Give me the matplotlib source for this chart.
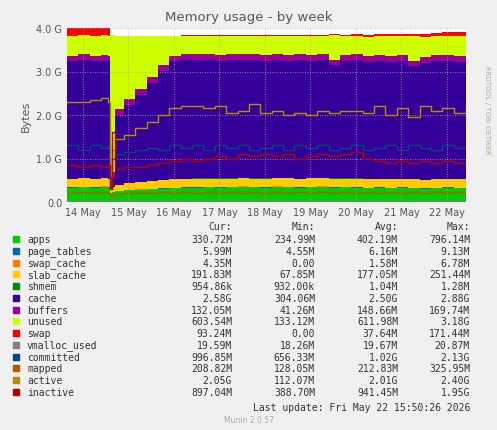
import matplotlib
matplotlib.use("Agg")
import matplotlib.pyplot as plt
import numpy as np

# time in days from 14 May 00:00
t = [-0.35, -0.1, 0.15, 0.4, 0.55, 0.6, 0.65, 0.7, 0.9, 1.15, 1.4, 1.65, 1.9, 2.15, 2.4, 2.65,
     2.9, 3.15, 3.4, 3.65, 3.9, 4.15, 4.4, 4.65, 4.9, 5.15, 5.4, 5.65, 5.9, 6.15, 6.4, 6.65,
     6.9, 7.15, 7.4, 7.65, 7.9, 8.15, 8.42]
# stacked series (GB)
apps = [0.33, 0.34, 0.33, 0.35, 0.33, 0.2, 0.22, 0.25, 0.27, 0.28, 0.3, 0.31, 0.32, 0.33, 0.33, 0.34,
        0.33, 0.34, 0.35, 0.34, 0.33, 0.35, 0.34, 0.33, 0.34, 0.35, 0.33, 0.34, 0.33, 0.32, 0.33, 0.32,
        0.33, 0.32, 0.31, 0.32, 0.33, 0.32, 0.33]
page_tables = [0.006] * 39
swap_cache = [0.004] * 39
slab_cache = [0.19, 0.2, 0.19, 0.2, 0.19, 0.1, 0.12, 0.14, 0.16, 0.17, 0.18, 0.19, 0.2, 0.19, 0.2, 0.19,
              0.2, 0.19, 0.2, 0.19, 0.2, 0.19, 0.2, 0.19, 0.2, 0.19, 0.2, 0.19, 0.2, 0.19, 0.18, 0.19,
              0.18, 0.19, 0.18, 0.19, 0.18, 0.19, 0.18]
shmem = [0.001] * 39
cache = [2.7, 2.72, 2.7, 2.68, 2.7, 0.15, 0.2, 1.6, 1.8, 2.0, 2.25, 2.5, 2.7, 2.75, 2.72, 2.74,
         2.7, 2.72, 2.7, 2.73, 2.7, 2.72, 2.7, 2.74, 2.7, 2.72, 2.6, 2.7, 2.72, 2.7, 2.73, 2.7,
         2.72, 2.6, 2.7, 2.72, 2.73, 2.7, 2.72]
buffers = [0.13] * 39
unused = [0.46, 0.43, 0.46, 0.46, 0.46, 3.24, 3.16, 1.69, 1.45, 1.23, 0.95, 0.68, 0.45, 0.40, 0.42, 0.40,
          0.44, 0.42, 0.42, 0.41, 0.44, 0.41, 0.43, 0.41, 0.43, 0.41, 0.56, 0.44, 0.42, 0.45, 0.43, 0.46,
          0.44, 0.56, 0.47, 0.44, 0.43, 0.46, 0.44]
swap = [0.17, 0.17, 0.17, 0.17, 0.17, 0.0, 0.0, 0.0, 0.0, 0.0, 0.0, 0.0, 0.0, 0.02, 0.02, 0.02,
        0.02, 0.02, 0.02, 0.02, 0.02, 0.02, 0.02, 0.02, 0.02, 0.02, 0.03, 0.03, 0.04, 0.04, 0.05, 0.05,
        0.06, 0.06, 0.07, 0.08, 0.09, 0.09, 0.09]
# line series (GB)
vmalloc_used = [0.02] * 39
committed = [1.3, 1.2, 1.3, 1.25, 1.3, 0.5, 1.0, 1.1, 1.15, 1.2, 1.25, 1.2, 1.3, 1.25, 1.3, 1.2,
             1.3, 1.25, 1.3, 1.2, 1.25, 1.3, 1.2, 1.3, 1.25, 1.3, 1.2, 1.25, 1.3, 1.2, 1.25, 1.3,
             1.2, 1.3, 1.25, 1.2, 1.3, 1.25, 1.3]
mapped = [0.21, 0.22, 0.21, 0.22, 0.21, 0.13, 0.15, 0.18, 0.2, 0.21, 0.21, 0.22, 0.21, 0.22, 0.21, 0.22,
          0.21, 0.22, 0.21, 0.22, 0.21, 0.22, 0.21, 0.22, 0.21, 0.22, 0.21, 0.22, 0.21, 0.22, 0.21, 0.22,
          0.21, 0.22, 0.21, 0.22, 0.21, 0.22, 0.21]
active = [2.3, 2.3, 2.35, 2.4, 2.3, 0.3, 1.2, 1.45, 1.55, 1.7, 1.85, 2.0, 2.15, 2.2, 2.2, 2.15,
          2.2, 2.05, 2.1, 2.25, 2.05, 2.1, 2.0, 2.05, 2.0, 2.1, 2.05, 2.1, 2.1, 2.05, 2.2, 2.0,
          2.15, 1.95, 2.2, 2.1, 2.15, 2.05, 2.2]
inactive = [0.85, 0.8, 0.85, 0.8, 0.85, 0.3, 1.6, 0.75, 0.8, 0.8, 0.85, 0.9, 0.95, 1.0, 0.95, 1.0,
            1.05, 1.0, 1.1, 1.05, 1.1, 1.05, 1.1, 1.0, 1.05, 1.1, 1.05, 1.1, 1.15, 1.0, 0.95, 0.9,
            0.95, 0.9, 0.95, 0.9, 0.95, 0.9, 0.92]

day_labels = ["14 May", "15 May", "16 May", "17 May", "18 May", "19 May", "20 May", "21 May", "22 May"]

stack_names = ["apps", "page_tables", "swap_cache", "slab_cache", "shmem", "cache", "buffers", "unused", "swap"]
stack_vals = [apps, page_tables, swap_cache, slab_cache, shmem, cache, buffers, unused, swap]
stack_colors = ["#00CC00", "#0066B3", "#FF8000", "#FFCC00", "#008F00", "#330099", "#990099", "#CCFF00", "#FF0000"]
line_names = ["vmalloc_used", "committed", "mapped", "active", "inactive"]
line_vals = [vmalloc_used, committed, mapped, active, inactive]
line_colors = ["#808080", "#00487D", "#B35A00", "#B38F00", "#B30000"]

legend_rows = [
    ("330.72M", "234.99M", "402.19M", "796.14M"),
    ("5.99M", "4.55M", "6.16M", "9.13M"),
    ("4.35M", "0.00", "1.58M", "6.78M"),
    ("191.83M", "67.85M", "177.05M", "251.44M"),
    ("954.86k", "932.00k", "1.04M", "1.28M"),
    ("2.58G", "304.06M", "2.50G", "2.88G"),
    ("132.05M", "41.26M", "148.66M", "169.74M"),
    ("603.54M", "133.12M", "611.98M", "3.18G"),
    ("93.24M", "0.00", "37.64M", "171.44M"),
    ("19.59M", "18.26M", "19.67M", "20.87M"),
    ("996.85M", "656.33M", "1.02G", "2.13G"),
    ("208.82M", "128.05M", "212.83M", "325.95M"),
    ("2.05G", "112.07M", "2.01G", "2.40G"),
    ("897.04M", "388.70M", "941.45M", "1.95G"),
]

W, H = 497, 431
fig = plt.figure(figsize=(W / 100, H / 100), dpi=100, facecolor="#F0F0F0")
ax = fig.add_axes([67 / W, 1 - 203 / H, (466 - 67) / W, (203 - 29) / H], facecolor="white")

tt = np.array(t)
base = np.zeros(len(t))
for name, vals, col in zip(stack_names, stack_vals, stack_colors):
    top = base + np.array(vals)
    ax.fill_between(tt, base, top, color=col, linewidth=0, step="post")
    base = top
for name, vals, col in zip(line_names, line_vals, line_colors):
    ax.step(tt, vals, where="post", color=col, linewidth=1.0)

ax.set_xlim(-0.35, 8.42)
ax.set_ylim(0, 4.0)
ax.set_yticks([0, 1, 2, 3, 4])
ax.set_yticklabels(["0.0", "1.0 G", "2.0 G", "3.0 G", "4.0 G"])
ax.set_xticks(range(9))
ax.set_xticklabels(day_labels)
ax.tick_params(labelsize=7, length=0, colors="#555555")
ax.grid(True, color="#E09090", linestyle=(0, (1, 2)), linewidth=0.6)
for s in ax.spines.values():
    s.set_visible(False)
ax.set_ylabel("Bytes", fontsize=8, color="#555555")

fig.text(0.5, 1 - 18 / H, "Memory usage - by week", ha="center", va="center", fontsize=9.5, color="#555555")
fig.text(487 / W, 1 - 110 / H, "RRDTOOL / TOBI OETIKER", rotation=270, ha="center", va="center",
         fontsize=5, color="#AAAAAA")

mono = "DejaVu Sans Mono"
cols_x = [232, 315, 398, 470]
for x, h in zip(cols_x, ["Cur:", "Min:", "Avg:", "Max:"]):
    fig.text(x / W, 1 - 227 / H, h, ha="right", va="center", fontsize=7, family=mono, color="#333333")
names = stack_names + line_names
colors = stack_colors + line_colors
for i, (n, c, row) in enumerate(zip(names, colors, legend_rows)):
    y = 1 - (240 + i * 11.77) / H
    fig.patches.append(plt.Rectangle((13 / W, y - 3 / H), 6 / W, 6 / H, color=c, transform=fig.transFigure))
    fig.text(27 / W, y, n, ha="left", va="center", fontsize=7, family=mono, color="#333333")
    for x, v in zip(cols_x, row):
        fig.text(x / W, y, v, ha="right", va="center", fontsize=7, family=mono, color="#333333")
fig.text(470 / W, 1 - 408 / H, "Last update: Fri May 22 15:50:26 2026", ha="right", va="center",
         fontsize=7, family=mono, color="#333333")
fig.text(0.5, 1 - 421 / H, "Munin 2.0.57", ha="center", va="center", fontsize=5.5, color="#AAAAAA")

fig.savefig("out.png", dpi=100, facecolor=fig.get_facecolor())
